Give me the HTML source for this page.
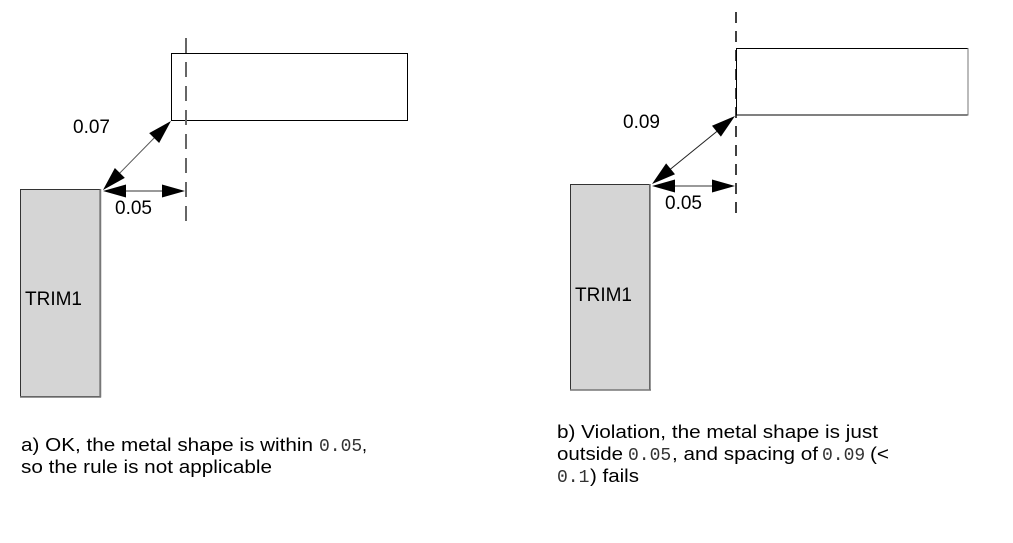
<!DOCTYPE html>
<html>
<head>
<meta charset="utf-8">
<style>
  html, body { margin: 0; padding: 0; background: #ffffff; }
  body { width: 1013px; height: 543px; overflow: hidden; }
  svg { display: block; }
  .lbl { font-family: "Liberation Sans", Arial, sans-serif; font-size: 19px; fill: #000; }
  .cap { font-family: "Liberation Sans", Arial, sans-serif; font-size: 18px; fill: #000; }
  .mono { font-family: "Liberation Mono", "DejaVu Sans Mono", monospace; font-size: 18px; fill: #333; }
</style>
</head>
<body>
<svg width="1013" height="543" viewBox="0 0 1013 543" xmlns="http://www.w3.org/2000/svg">
  <rect x="0" y="0" width="1013" height="543" fill="#ffffff"/>

  <!-- ===== Left panel (a) ===== -->
  <rect x="171.5" y="53.5" width="236" height="67" fill="#ffffff" stroke="#000" stroke-width="1"/>
  <line x1="186" y1="38" x2="186" y2="223" stroke="#666" stroke-width="2" stroke-dasharray="15,9"/>
  <rect x="20.5" y="189.5" width="79.5" height="207" fill="#d5d5d5" stroke="#333" stroke-width="1"/>
  <line x1="100.5" y1="189" x2="100.5" y2="397.5" stroke="#777" stroke-width="1.5"/>
  <line x1="20" y1="397" x2="101" y2="397" stroke="#777" stroke-width="1.5"/>
  <text class="lbl" x="25" y="305" font-size="20">TRIM1</text>

  <line x1="112" y1="181" x2="162" y2="130" stroke="#555" stroke-width="1"/>
  <polygon points="171,121 159.13,143 149.17,133.18" fill="#000"/>
  <polygon points="103,190 124.83,177.82 114.87,168" fill="#000"/>
  <line x1="110" y1="191" x2="178" y2="191" stroke="#333" stroke-width="1"/>
  <polygon points="103,191 126,184.5 126,197.5" fill="#000"/>
  <polygon points="185,191 162,184.5 162,197.5" fill="#000"/>

  <text class="lbl" x="73" y="133">0.07</text>
  <text class="lbl" x="115" y="214">0.05</text>

  <text class="cap" x="21" y="451" textLength="292" lengthAdjust="spacingAndGlyphs">a) OK, the metal shape is within</text>
  <text class="mono" x="319" y="451">0.05</text>
  <text class="cap" x="362" y="451">,</text>
  <text class="cap" x="21" y="473" textLength="251" lengthAdjust="spacingAndGlyphs">so the rule is not applicable</text>

  <!-- ===== Right panel (b) ===== -->
  <rect x="736.5" y="48.5" width="231.5" height="66.5" fill="#ffffff" stroke="#000" stroke-width="1"/>
  <line x1="968" y1="48" x2="968" y2="115.5" stroke="#777" stroke-width="1"/>
  <line x1="736" y1="12" x2="736" y2="216" stroke="#000" stroke-width="1.5" stroke-dasharray="11,8"/>
  <rect x="570.5" y="184.5" width="79" height="205.5" fill="#d5d5d5" stroke="#333" stroke-width="1"/>
  <line x1="650" y1="184" x2="650" y2="390.5" stroke="#777" stroke-width="1.5"/>
  <line x1="570" y1="390" x2="651" y2="390" stroke="#777" stroke-width="1.5"/>
  <text class="lbl" x="575" y="301" font-size="20">TRIM1</text>

  <line x1="662" y1="176" x2="726" y2="124" stroke="#222" stroke-width="1"/>
  <polygon points="735,116 720.88,136.62 712,125.8" fill="#000"/>
  <polygon points="652,184 675,174.2 666.12,163.38" fill="#000"/>
  <line x1="660" y1="186" x2="728" y2="186" stroke="#333" stroke-width="1"/>
  <polygon points="652,186 675,179.5 675,192.5" fill="#000"/>
  <polygon points="735,186 712,179.5 712,192.5" fill="#000"/>

  <text class="lbl" x="623" y="128">0.09</text>
  <text class="lbl" x="665" y="209">0.05</text>

  <text class="cap" x="557" y="438" textLength="321" lengthAdjust="spacingAndGlyphs">b) Violation, the metal shape is just</text>
  <text class="cap" x="557" y="460" textLength="66" lengthAdjust="spacingAndGlyphs">outside</text>
  <text class="mono" x="628" y="460">0.05</text>
  <text class="cap" x="672" y="460" textLength="146" lengthAdjust="spacingAndGlyphs">, and spacing of</text>
  <text class="mono" x="822" y="460">0.09</text>
  <text class="cap" x="870" y="460" textLength="19" lengthAdjust="spacingAndGlyphs">(&lt;</text>
  <text class="mono" x="557" y="482">0.1</text>
  <text class="cap" x="590" y="482" textLength="49" lengthAdjust="spacingAndGlyphs">) fails</text>
</svg>
</body>
</html>
